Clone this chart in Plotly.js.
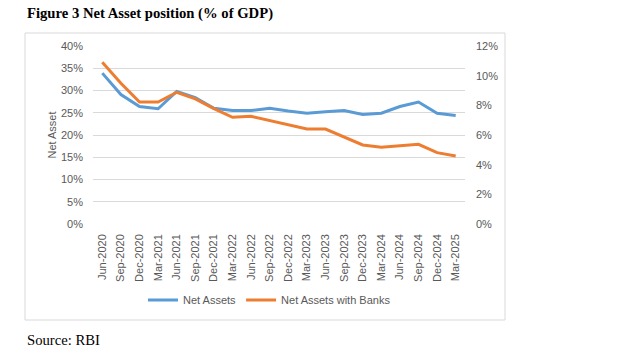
<!DOCTYPE html>
<html>
<head>
<meta charset="utf-8">
<script src="https://cdn.plot.ly/plotly-3.0.1.min.js"></script>
<style>html,body{margin:0;padding:0;background:#fff;}#chart{width:635px;height:356px;}</style>
</head>
<body>
<div id="chart"></div>
<script>
const categories = ["Jun-2020","Sep-2020","Dec-2020","Mar-2021","Jun-2021","Sep-2021","Dec-2021","Mar-2022","Jun-2022","Sep-2022","Dec-2022","Mar-2023","Jun-2023","Sep-2023","Dec-2023","Mar-2024","Jun-2024","Sep-2024","Dec-2024","Mar-2025"];
const netAssets = [0.339,0.291,0.264,0.259,0.298,0.284,0.260,0.255,0.255,0.260,0.254,0.249,0.252,0.255,0.246,0.249,0.264,0.274,0.249,0.244];
const netAssetsWithBanks = [0.109,0.0949,0.0822,0.0822,0.0888,0.0843,0.0778,0.0719,0.0726,0.0697,0.0672,0.0640,0.0640,0.0589,0.0533,0.0517,0.0526,0.0537,0.0481,0.0458];
const seriesNames = ["Net Assets","Net Assets with Banks"];
const titleText = "Figure 3 Net Asset position (% of GDP)";
const sourceText = "Source: RBI";
const yTitle = "Net Asset";

const W = 635, H = 356, L = 93, R = 465, T = 46, B = 224;
const px = x => (x - L) / (R - L);
const py = y => (B - y) / (B - T);
const grey = "#595959";
const tickFont = {family: "Liberation Sans, Arial, sans-serif", size: 11, color: grey};

const data = [
  {x: categories, y: netAssets, name: seriesNames[0], type: "scatter", mode: "lines",
   line: {color: "#5b9bd5", width: 3}, yaxis: "y"},
  {x: categories, y: netAssetsWithBanks, name: seriesNames[1], type: "scatter", mode: "lines",
   line: {color: "#ed7d31", width: 3}, yaxis: "y2"}
];

const layout = {
  width: W, height: H,
  margin: {l: L, r: W - R, t: T, b: H - B, pad: 0},
  paper_bgcolor: "#fff", plot_bgcolor: "#fff",
  showlegend: true,
  legend: {orientation: "h", x: px(143), xanchor: "left", y: py(300), yanchor: "middle",
           font: tickFont, bgcolor: "rgba(0,0,0,0)", itemwidth: 30, tracegroupgap: 0},
  xaxis: {type: "category", tickangle: -90, tickfont: tickFont, showgrid: false, zeroline: false,
          showline: false, ticks: "", ticklabelstandoff: 7, automargin: false,
          range: [-0.5, categories.length - 0.5]},
  yaxis: {range: [0, 0.4], dtick: 0.05, tickformat: ".0%", tickfont: tickFont,
          gridcolor: "#d9d9d9", gridwidth: 1, zeroline: false, showline: false, ticks: "",
          ticklabelstandoff: 9, automargin: false,
          title: {text: yTitle, font: tickFont, standoff: 2}},
  yaxis2: {range: [0, 0.12], dtick: 0.02, tickformat: ".0%", tickfont: tickFont, overlaying: "y",
           side: "right", showgrid: false, zeroline: false, showline: false, ticks: "",
           ticklabelstandoff: 10, automargin: false},
  shapes: [
    {type: "rect", xref: "paper", yref: "paper", x0: px(25), x1: px(505), y0: py(320), y1: py(33),
     line: {color: "#d9d9d9", width: 1}, fillcolor: "rgba(0,0,0,0)", layer: "below"}
  ],
  annotations: [
    {text: "<b>" + titleText + "</b>", xref: "paper", yref: "paper", x: px(25), y: py(13),
     xanchor: "left", yanchor: "middle", showarrow: false,
     font: {family: "Liberation Serif, Times New Roman, serif", size: 14.67, color: "#000"}},
    {text: sourceText, xref: "paper", yref: "paper", x: px(25), y: py(340),
     xanchor: "left", yanchor: "middle", showarrow: false,
     font: {family: "Liberation Serif, Times New Roman, serif", size: 14.67, color: "#000"}}
  ]
};

Plotly.newPlot("chart", data, layout, {displayModeBar: false, staticPlot: true});
</script>
</body>
</html>
